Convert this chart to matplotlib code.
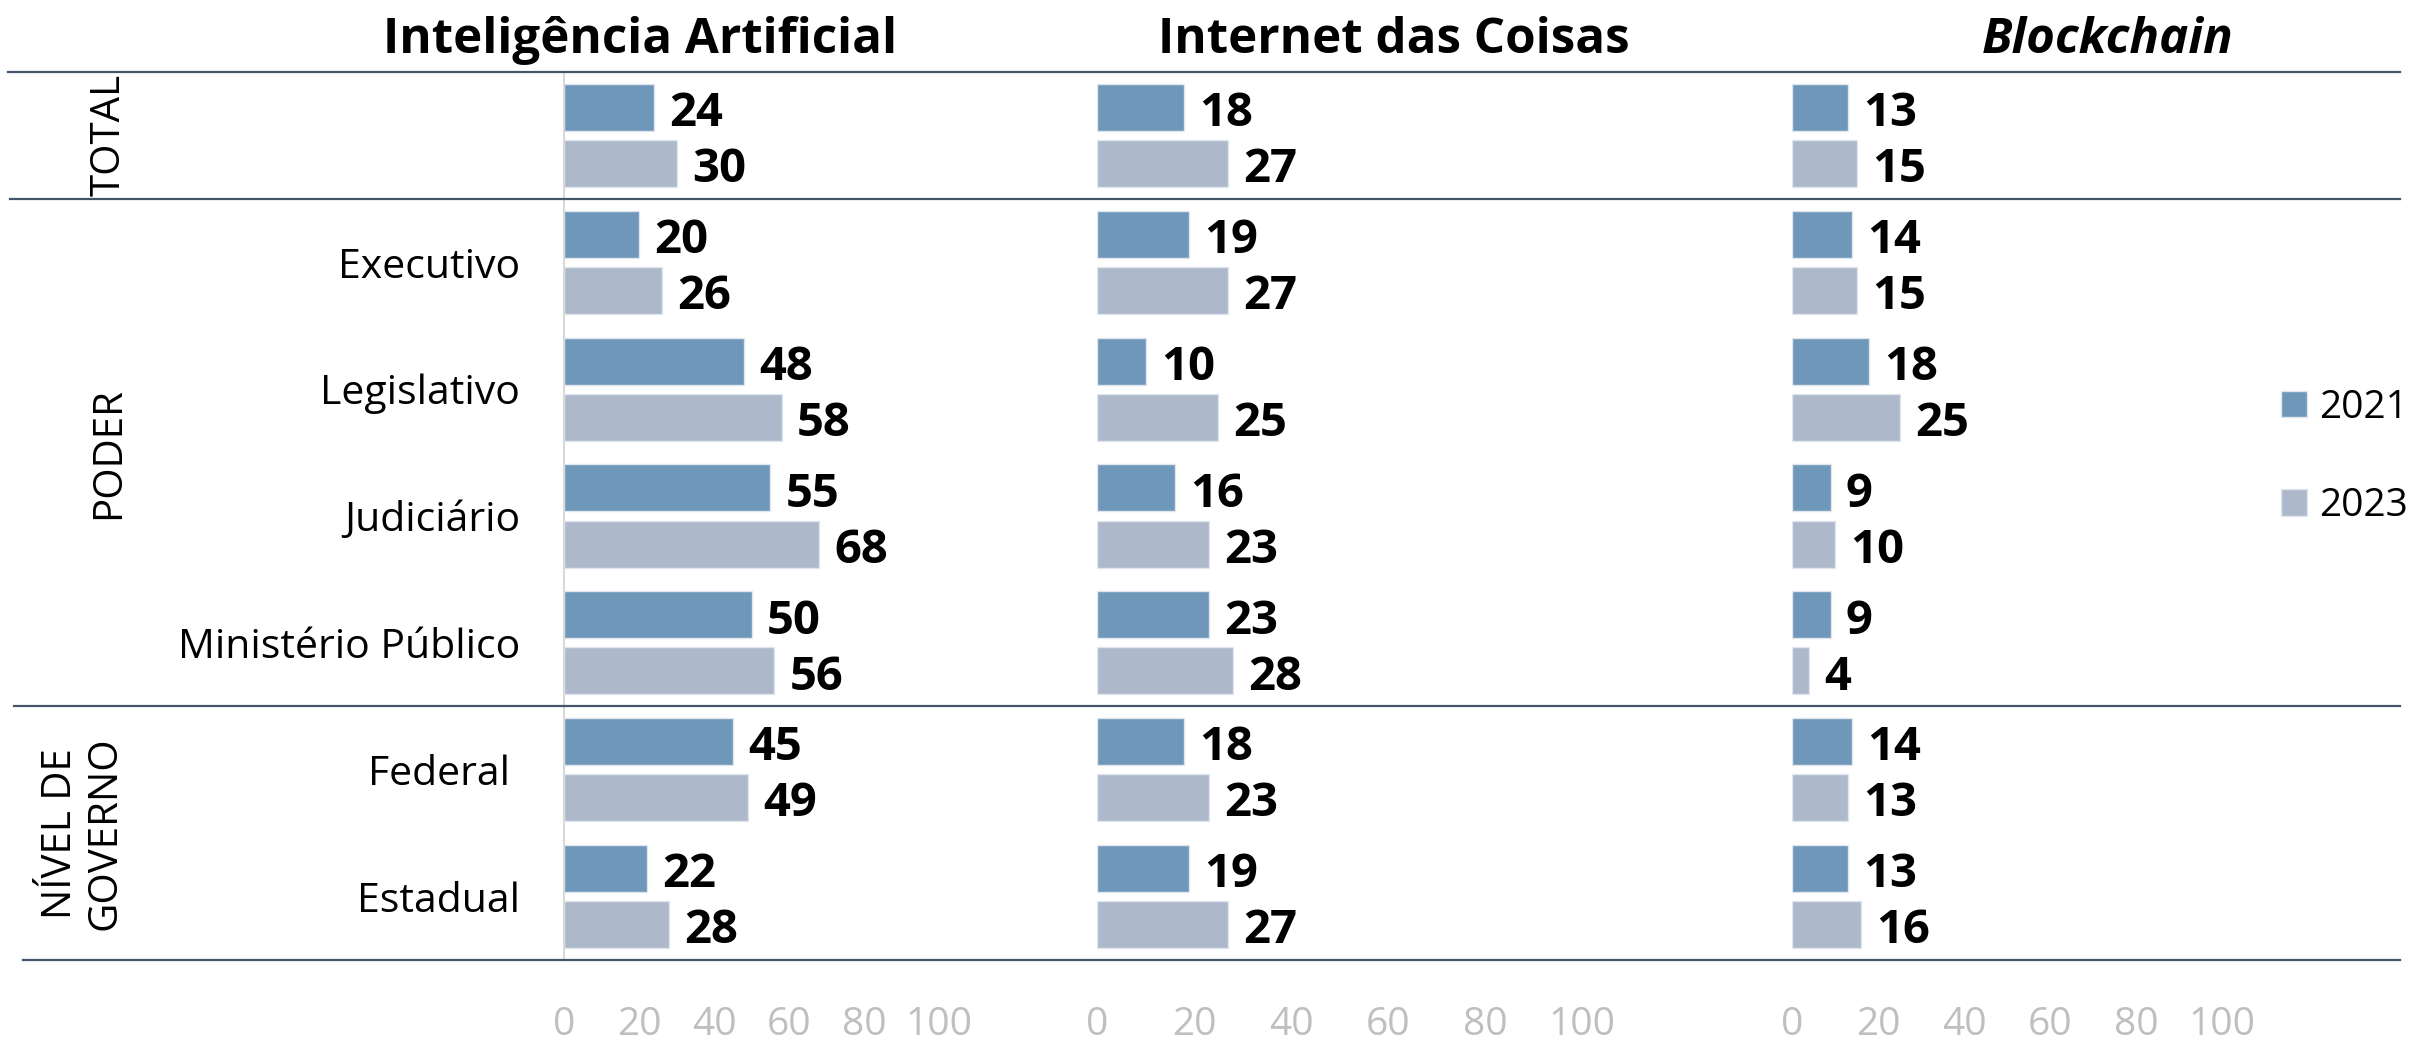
from __future__ import annotations

import matplotlib

matplotlib.use("Agg")
import matplotlib.pyplot as plt
import numpy as np
from matplotlib.lines import Line2D
from matplotlib.transforms import blended_transform_factory

FIG_W, FIG_H, DPI = 2410, 1043, 100

# --- data -------------------------------------------------------------------
row_labels = ["", "Executivo", "Legislativo", "Judiciário",
              "Ministério Público", "Federal ", "Estadual"]
group_labels = ["TOTAL", "PODER", "NÍVEL DE\nGOVERNO"]
group_rows = [(0, 0), (1, 4), (5, 6)]
years = ["2021", "2023"]
x_ticks = [0, 20, 40, 60, 80, 100]

ia_2021 = [24, 20, 48, 55, 50, 45, 22]
ia_2023 = [30, 26, 58, 68, 56, 49, 28]
iot_2021 = [18, 19, 10, 16, 23, 18, 19]
iot_2023 = [27, 27, 25, 23, 28, 23, 27]
bc_2021 = [13, 14, 18, 9, 9, 14, 13]
bc_2023 = [15, 15, 25, 10, 4, 13, 16]

# --- style ------------------------------------------------------------------
COLOR_2021 = "#6f97b9"
COLOR_2023 = "#adb9cb"
EDGE_COLOR = "#dfe6ef"
LINE_COLOR = "#44546a"
TICK_COLOR = "#bfbfbf"

plt.rcParams["font.family"] = ["Open Sans", "DejaVu Sans"]


def fx(px: float) -> float:
    return px / FIG_W


def fy(px: float) -> float:
    return 1 - px / FIG_H


# title, 2021, 2023, axis left px, axis width px, title centre px, italic
panels = [
    ("Inteligência Artificial", ia_2021, ia_2023, 564, 375, 640, False),
    ("Internet das Coisas", iot_2021, iot_2023, 1097, 485, 1394, False),
    ("Blockchain", bc_2021, bc_2023, 1792, 430, 2108, True),
]

fig = plt.figure(figsize=(FIG_W / DPI, FIG_H / DPI), dpi=DPI)

top_px, bottom_px = 72, 960
y = np.arange(len(row_labels))
bar_h = 0.37
offset = 0.221

axes = []
handles = None
for i, (title, s21, s23, left, width, t_center, italic) in enumerate(panels):
    ax = fig.add_axes([fx(left), fy(bottom_px), width / FIG_W,
                       (bottom_px - top_px) / FIG_H])
    b21 = ax.barh(y - offset, s21, height=bar_h, color=COLOR_2021,
                  edgecolor=EDGE_COLOR, linewidth=1, label=years[0])
    b23 = ax.barh(y + offset, s23, height=bar_h, color=COLOR_2023,
                  edgecolor=EDGE_COLOR, linewidth=1, label=years[1])
    for cont in (b21, b23):
        labels = ax.bar_label(cont, padding=11, fontsize=34,
                              fontweight="bold")
        for lab in labels:
            # the original sits the numbers a touch below the bar centre
            lab.xyann = (lab.xyann[0], -4.5)
    if handles is None:
        handles = [b21, b23]

    ax.set_xlim(0, 100)
    ax.set_ylim(len(row_labels) - 0.5, -0.5)
    ax.set_xticks(x_ticks)
    ax.tick_params(axis="x", length=0, pad=33, labelcolor=TICK_COLOR,
                   labelsize=28)
    if i == 0:
        ax.set_yticks(y, row_labels)
        ax.tick_params(axis="y", length=0, pad=31.5, labelsize=29.5)
    else:
        ax.set_yticks([])
    for name, spine in ax.spines.items():
        spine.set_visible(i == 0 and name == "left")
    ax.spines["left"].set_color("#d9d9d9")
    ax.spines["left"].set_linewidth(1.5)
    ax.patch.set_alpha(0)

    fig.text(fx(t_center), fy(53), title, ha="center", va="baseline",
             fontsize=35.5, fontweight="bold",
             style="italic" if italic else "normal")
    axes.append(ax)

ax0 = axes[0]
trans = blended_transform_factory(fig.transFigure, ax0.transData)

# horizontal separators between groups
for yb, x0 in zip([-0.5, 0.5, 4.5, 6.5], [8, 10, 14, 23]):
    fig.add_artist(Line2D([fx(x0), fx(2400)], [yb, yb], transform=trans,
                          color=LINE_COLOR, linewidth=1.6))

# group labels on the left
for label, (r0, r1) in zip(group_labels, group_rows):
    x_c = 83 if "\n" in label else 109
    fig.text(fx(x_c), (r0 + r1) / 2, label, transform=trans, rotation=90,
             ha="center", va="center", fontsize=29, multialignment="center",
             linespacing=1.15)

fig.legend(handles, years, loc="center left",
           bbox_to_anchor=(fx(2281), fy(457)), frameon=False, fontsize=28,
           handlelength=0.67, handleheight=0.67, handletextpad=0.31,
           labelspacing=1.55, borderpad=0, borderaxespad=0)

fig.savefig("out.png", dpi=DPI)
